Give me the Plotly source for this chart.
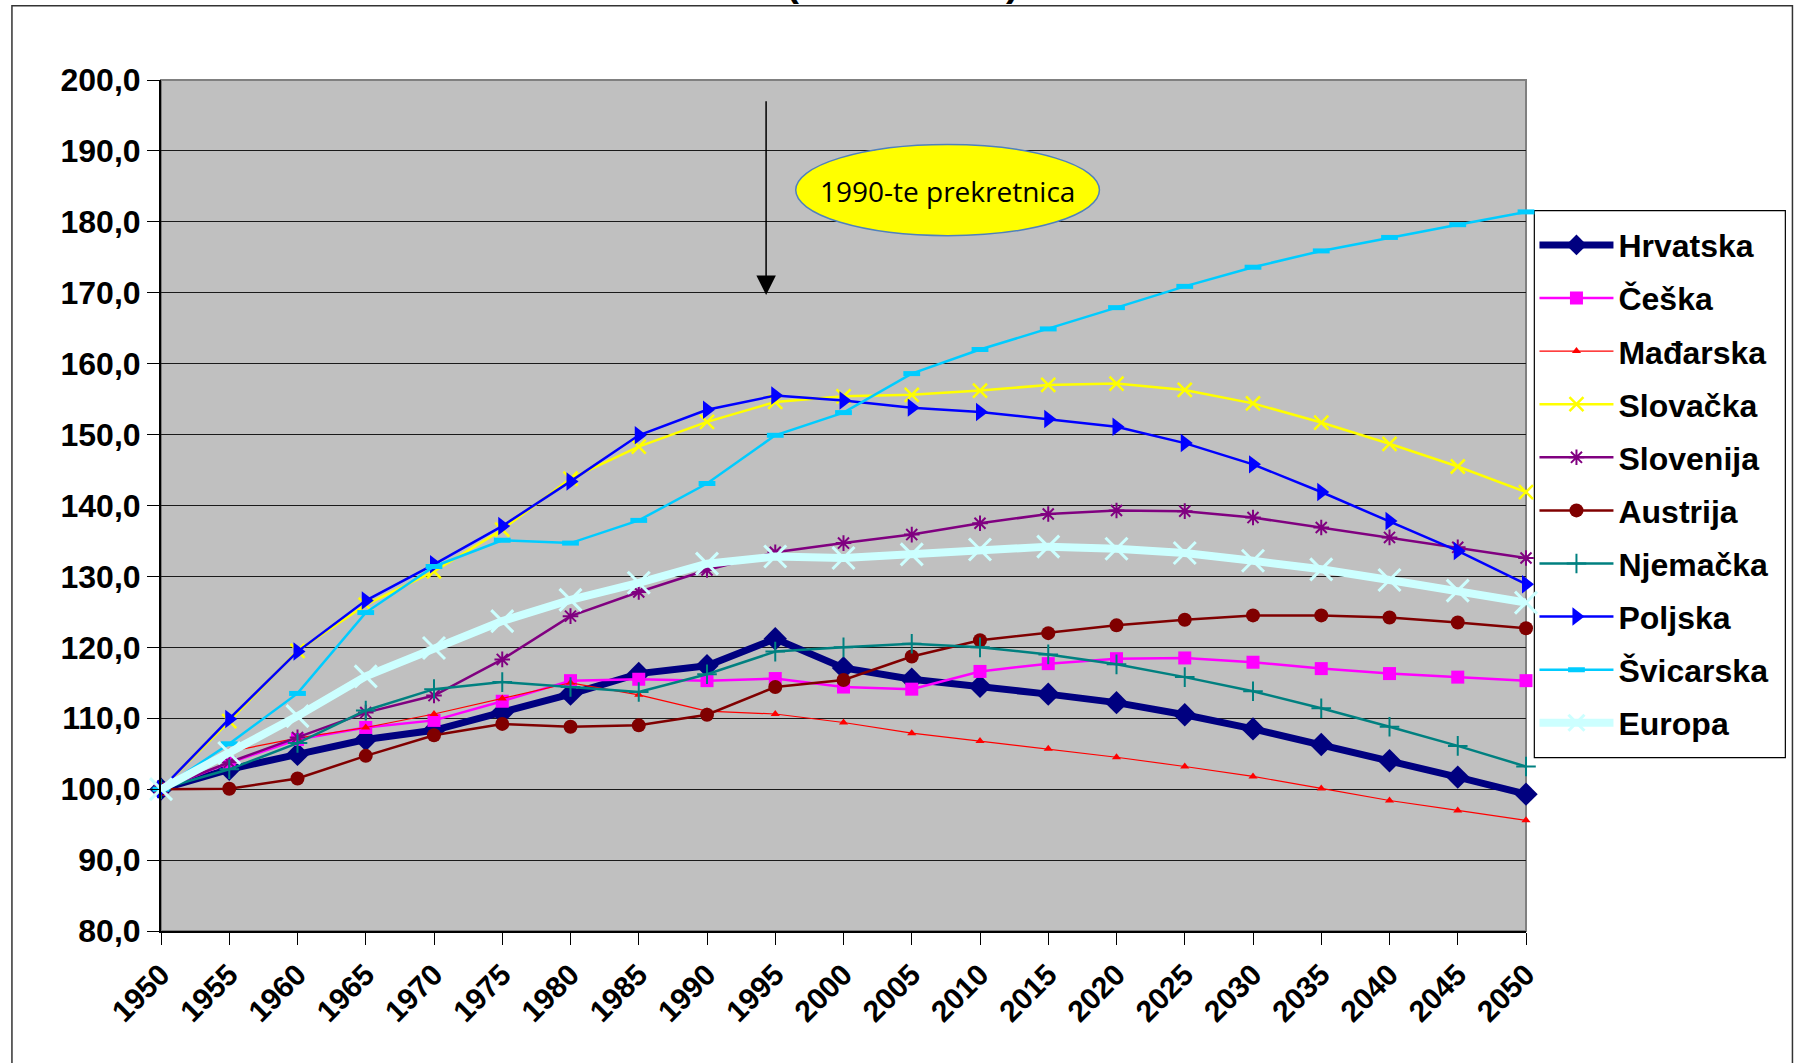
import plotly.graph_objects as go

years = [1950, 1955, 1960, 1965, 1970, 1975, 1980, 1985, 1990, 1995, 2000,
         2005, 2010, 2015, 2020, 2025, 2030, 2035, 2040, 2045, 2050]

hrvatska = [100, 102.8, 104.9, 107.0, 108.3, 110.8, 113.4, 116.3, 117.4, 121.2, 117.1,
            115.5, 114.5, 113.4, 112.2, 110.5, 108.5, 106.3, 104.0, 101.7, 99.3]
ceska = [100, 103.7, 107.0, 108.7, 109.7, 112.4, 115.3, 115.5, 115.3, 115.6, 114.4,
         114.1, 116.6, 117.7, 118.4, 118.5, 117.9, 117.0, 116.3, 115.8, 115.3]
madarska = [100, 105.3, 107.2, 108.7, 110.6, 112.8, 115.0, 113.3, 111.0, 110.6, 109.4,
            107.9, 106.8, 105.7, 104.5, 103.2, 101.8, 100.1, 98.4, 97.0, 95.6]
slovacka = [100, 109.6, 119.5, 126.0, 130.7, 136.6, 143.8, 148.3, 151.8, 154.6, 155.4,
            155.6, 156.2, 157.0, 157.2, 156.3, 154.4, 151.7, 148.7, 145.5, 141.9]
slovenija = [100, 103.8, 107.3, 110.8, 113.2, 118.3, 124.4, 127.8, 130.9, 133.4, 134.7,
             135.9, 137.5, 138.8, 139.3, 139.2, 138.3, 136.9, 135.5, 134.1, 132.6]
austrija = [100, 100.05, 101.5, 104.7, 107.6, 109.2, 108.8, 109.0, 110.5, 114.4, 115.4,
            118.7, 121.0, 122.0, 123.1, 123.9, 124.5, 124.5, 124.2, 123.5, 122.7]
njemacka = [100, 102.8, 106.5, 111.1, 114.1, 115.1, 114.4, 113.7, 116.2, 119.4, 120.0,
            120.5, 120.0, 119.0, 117.6, 115.8, 113.8, 111.4, 108.8, 106.1, 103.2]
poljska = [100, 109.9, 119.4, 126.6, 131.7, 137.1, 143.4, 149.9, 153.5, 155.5, 154.8,
           153.8, 153.2, 152.2, 151.1, 148.8, 145.8, 141.9, 137.8, 133.6, 128.9]
svicarska = [100, 106.4, 113.5, 124.9, 131.4, 135.1, 134.7, 137.9, 143.1, 149.9, 153.1,
             158.6, 162.0, 164.9, 167.9, 170.9, 173.6, 175.9, 177.8, 179.6, 181.4]
europa = [100, 105.1, 110.3, 115.9, 119.9, 123.7, 126.7, 129.1, 131.8, 132.8, 132.6,
          133.1, 133.8, 134.2, 133.9, 133.3, 132.2, 131.0, 129.5, 128.0, 126.3]

series_names = ["Hrvatska", "Češka", "Mađarska", "Slovačka", "Slovenija",
                "Austrija", "Njemačka", "Poljska", "Švicarska", "Europa"]
series_values = [hrvatska, ceska, madarska, slovacka, slovenija,
                 austrija, njemacka, poljska, svicarska, europa]

y_tick_values = [80, 90, 100, 110, 120, 130, 140, 150, 160, 170, 180, 190, 200]
annotation_text = "1990-te prekretnica"
title_text = "(1950. = 100)"

# styles: (line color, line width, marker symbol, marker size, marker line width)
styles = {
    "Hrvatska": ("#000080", 7, "diamond", 18, 0),
    "Češka": ("#FF00FF", 2.5, "square", 13, 0),
    "Mađarska": ("#FF0000", 1.2, "triangle-up", 8, 0),
    "Slovačka": ("#FFFF00", 2.5, "x-thin", 14, 2.5),
    "Slovenija": ("#800080", 2.5, "asterisk", 13, 2),
    "Austrija": ("#800000", 2.5, "circle", 14, 0),
    "Njemačka": ("#008080", 2.5, "cross-thin", 14, 2),
    "Poljska": ("#0000FF", 2.5, "triangle-right", 16, 0),
    "Švicarska": ("#00CCFF", 2.5, "line-ew", 12, 5),
    "Europa": ("#CCFFFF", 8, "x-thin", 22, 3),
}

fig = go.Figure()
for name, vals in zip(series_names, series_values):
    color, lw, sym, ms, mlw = styles[name]
    marker = dict(symbol=sym, size=ms, color=color)
    if mlw:
        marker["line"] = dict(color=color, width=mlw)
    fig.add_trace(go.Scatter(
        x=years, y=vals, name=name, mode="lines+markers",
        line=dict(color=color, width=lw), marker=marker,
        cliponaxis=False, legendgroup=name,
    ))

tick_font = dict(family="Liberation Sans", size=32, color="black", weight="bold")

fig.update_layout(
    width=1799, height=1063, autosize=False,
    margin=dict(l=160.6, r=273.4, t=80.3, b=131.5),
    paper_bgcolor="white", plot_bgcolor="#C0C0C0",
    separators=",.",
    showlegend=True,
    legend=dict(
        x=1.0062, y=0.8383, xanchor="left", yanchor="top",
        bgcolor="rgba(0,0,0,0)", borderwidth=0,
        font=dict(family="Liberation Sans", size=32, color="black", weight="bold"),
        tracegroupgap=8.5, itemwidth=74,
    ),
    xaxis=dict(
        range=[1950, 2050], tickmode="array", tickvals=years,
        ticktext=[str(y) for y in years], tickangle=-45,
        ticks="outside", ticklen=12, tickcolor="black", tickwidth=1,
        showgrid=False, zeroline=False, showline=True, linecolor="black", linewidth=2,
        tickfont=dict(family="Liberation Sans", size=30, color="black", weight="bold"),
    ),
    yaxis=dict(
        range=[80, 200], tickmode="array", tickvals=y_tick_values, tickformat=".1f",
        ticks="outside", ticklen=12, tickcolor="black", tickwidth=1,
        showgrid=True, gridcolor="#1a1a1a", gridwidth=1, zeroline=False,
        showline=True, linecolor="black", linewidth=2, tickfont=tick_font,
    ),
    shapes=[
        dict(type="rect", xref="paper", yref="paper", x0=0, x1=1, y0=0, y1=1,
             line=dict(color="#808080", width=2), layer="between"),
        dict(type="rect", xref="paper", yref="paper", x0=-0.1092, x1=1.1952,
             y0=-0.2, y1=1.0873, line=dict(color="#333333", width=1.5), layer="below"),
        dict(type="rect", xref="paper", yref="paper", x0=1.0061, x1=1.1900,
             y0=0.2038, y1=0.8465, fillcolor="white",
             line=dict(color="black", width=1.2), layer="below"),
        dict(type="circle", xref="x", yref="y", x0=1996.5, x1=2018.75, y0=178.05, y1=190.9,
             fillcolor="#FFFF00", line=dict(color="#4F81BD", width=1.5), layer="above"),
    ],
    annotations=[
        dict(x=1994.33, y=169.7, ax=1994.33, ay=197.2, axref="x", ayref="y",
             xref="x", yref="y", text="", showarrow=True, arrowhead=2,
             arrowsize=2.6, arrowwidth=1.5, arrowcolor="black", standoff=0),
        dict(x=2007.6, y=184.4, xref="x", yref="y", text=annotation_text, showarrow=False,
             font=dict(family="Open Sans", size=28, color="black")),
        dict(x=0.5431, y=1.0873, xref="paper", yref="paper", text=title_text,
             showarrow=False, yanchor="bottom",
             font=dict(family="Liberation Sans", size=39, color="black", weight="bold")),
    ],
)

fig.write_html("out.html", config={"displayModeBar": False},
               post_script="document.body.style.margin='0';")
